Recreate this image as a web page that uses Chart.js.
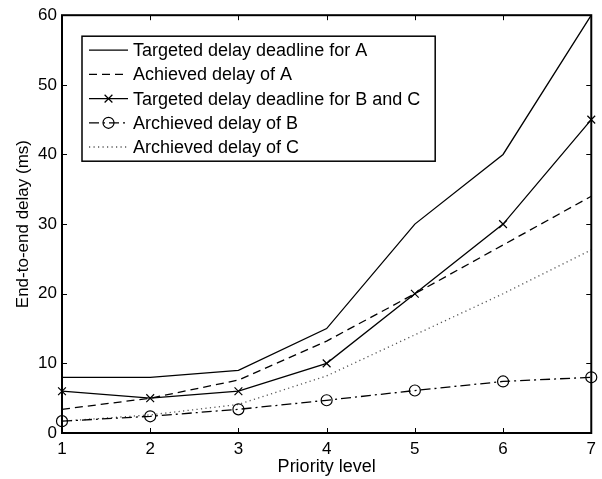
<!DOCTYPE html>
<html>
<head>
<meta charset="utf-8">
<title>End-to-end delay per priority level</title>
<script src="https://cdn.jsdelivr.net/npm/chart.js@4.4.0/dist/chart.umd.min.js"></script>
<style>
  html, body { margin: 0; padding: 0; background: #fff; }
  #wrap { width: 602px; height: 479px; }
</style>
</head>
<body>
<div id="wrap"><canvas id="delayChart" width="602" height="479"></canvas></div>
<script>
// priority levels on the x axis and the y tick values
const priorityLevels = [1, 2, 3, 4, 5, 6, 7];
const yTicks = [0, 10, 20, 30, 40, 50, 60];

// delays in ms, one value per priority level
const targetA = [8, 8, 9, 15, 30, 40, 60];
const achievedA = [3.4, 5, 7.6, 13.2, 20, 27, 34];
const targetBC = [6, 5, 6, 10, 20, 30, 45];
const achievedB = [1.7, 2.4, 3.4, 4.7, 6.1, 7.4, 8];
const achievedC = [1.7, 2.6, 4.1, 8.2, 14.1, 20, 26.3];

const seriesLabels = [
  'Targeted delay deadline for A',
  'Achieved delay of A',
  'Targeted delay deadline for B and C',
  'Archieved delay of B',
  'Archieved delay of C'
];

const FONT = '"Liberation Sans", Arial, Helvetica, sans-serif';
const TICK_LEN = 5;

function toPoints(values) {
  return values.map((v, i) => ({ x: priorityLevels[i], y: v }));
}

function makeSeries(label, values, dash, marker, color) {
  return {
    label: label,
    data: toPoints(values),
    borderColor: color || '#000',
    backgroundColor: 'transparent',
    borderWidth: 1.3,
    borderDash: dash,
    pointStyle: marker || 'circle',
    pointRadius: marker ? 5.5 : 0,
    pointBorderWidth: 1.2,
    pointBorderColor: '#000',
    pointBackgroundColor: 'transparent',
    tension: 0,
    clip: false
  };
}

// small cross / circle used both on the lines and in the legend
function drawMarker(ctx, style, x, y, r) {
  ctx.save();
  ctx.setLineDash([]);
  ctx.lineWidth = 1.2;
  ctx.strokeStyle = '#000';
  ctx.beginPath();
  if (style === 'crossRot') {
    const d = r * Math.SQRT1_2;
    ctx.moveTo(x - d, y - d); ctx.lineTo(x + d, y + d);
    ctx.moveTo(x - d, y + d); ctx.lineTo(x + d, y - d);
  } else {
    ctx.arc(x, y, r, 0, Math.PI * 2);
  }
  ctx.stroke();
  ctx.restore();
}

// MATLAB style box with inward ticks on all four sides
const axesBox = {
  id: 'axesBox',
  afterDatasetsDraw(chart) {
    const { ctx, chartArea: a, scales: { x, y } } = chart;
    ctx.save();
    ctx.strokeStyle = '#000';
    ctx.lineWidth = 1;
    ctx.beginPath();
    priorityLevels.forEach(v => {
      const px = Math.round(x.getPixelForValue(v)) + 0.5;
      ctx.moveTo(px, a.bottom); ctx.lineTo(px, a.bottom - TICK_LEN);
      ctx.moveTo(px, a.top); ctx.lineTo(px, a.top + TICK_LEN);
    });
    yTicks.forEach(v => {
      const py = Math.round(y.getPixelForValue(v)) + 0.5;
      ctx.moveTo(a.left, py); ctx.lineTo(a.left + TICK_LEN, py);
      ctx.moveTo(a.right, py); ctx.lineTo(a.right - TICK_LEN, py);
    });
    ctx.stroke();
    ctx.lineWidth = 2;
    ctx.strokeRect(a.left, a.top, a.right - a.left, a.bottom - a.top);
    ctx.restore();
  }
};

// boxed legend in the upper left corner of the plot
const boxLegend = {
  id: 'boxLegend',
  afterDraw(chart) {
    const { ctx, chartArea: a } = chart;
    const sets = chart.data.datasets;
    const left = a.left + 20;
    const top = a.top + 21;
    const rowH = 24.2;
    const lineLen = 39;
    ctx.save();
    ctx.font = '18px ' + FONT;
    let textW = 0;
    sets.forEach(ds => { textW = Math.max(textW, ctx.measureText(ds.label).width); });
    const w = 7 + lineLen + 5 + textW + 15;
    const h = rowH * sets.length + 4;
    ctx.fillStyle = '#fff';
    ctx.fillRect(left, top, w, h);
    ctx.lineWidth = 1.5;
    ctx.strokeStyle = '#000';
    ctx.strokeRect(left, top, w, h);

    sets.forEach((ds, i) => {
      const cy = top + 14 + i * rowH;
      const x0 = left + 7;
      ctx.beginPath();
      ctx.setLineDash(ds.borderDash || []);
      ctx.lineWidth = ds.borderWidth;
      ctx.strokeStyle = ds.borderColor;
      ctx.moveTo(x0, cy);
      ctx.lineTo(x0 + lineLen, cy);
      ctx.stroke();
      ctx.setLineDash([]);
      if (ds.pointRadius > 0) {
        drawMarker(ctx, ds.pointStyle, x0 + lineLen / 2, cy, ds.pointRadius);
      }
      ctx.fillStyle = '#000';
      ctx.textBaseline = 'middle';
      ctx.fillText(ds.label, x0 + lineLen + 5, cy + 1);
    });
    ctx.restore();
  }
};

const ctx = document.getElementById('delayChart');

new Chart(ctx, {
  type: 'line',
  data: {
    datasets: [
      makeSeries(seriesLabels[0], targetA, []),
      makeSeries(seriesLabels[1], achievedA, [8, 5]),
      makeSeries(seriesLabels[2], targetBC, [], 'crossRot'),
      makeSeries(seriesLabels[3], achievedB, [10, 4, 2, 4], 'circle'),
      makeSeries(seriesLabels[4], achievedC, [1.2, 3.3], null, '#555')
    ]
  },
  options: {
    responsive: false,
    animation: false,
    events: [],
    layout: {
      padding: { top: 15, right: 9, left: 0, bottom: 0 }
    },
    plugins: {
      legend: { display: false },
      tooltip: { enabled: false }
    },
    scales: {
      x: {
        type: 'linear',
        min: 1,
        max: 7,
        grid: { display: false, drawTicks: false },
        border: { display: false },
        ticks: {
          stepSize: 1,
          padding: 6,
          color: '#000',
          font: { family: FONT, size: 17 }
        },
        title: {
          display: true,
          text: 'Priority level',
          color: '#000',
          padding: { top: 0, bottom: 1 },
          font: { family: FONT, size: 18 }
        },
        afterFit(scale) { scale.height = 46; }
      },
      y: {
        min: 0,
        max: 60,
        grid: { display: false, drawTicks: false },
        border: { display: false },
        ticks: {
          stepSize: 10,
          padding: 5,
          color: '#000',
          font: { family: FONT, size: 17 }
        },
        title: {
          display: true,
          text: 'End-to-end delay (ms)',
          color: '#000',
          padding: { top: 13, bottom: 0 },
          font: { family: FONT, size: 17 }
        },
        afterFit(scale) { scale.width = 62; }
      }
    }
  },
  plugins: [axesBox, boxLegend]
});
</script>
</body>
</html>
